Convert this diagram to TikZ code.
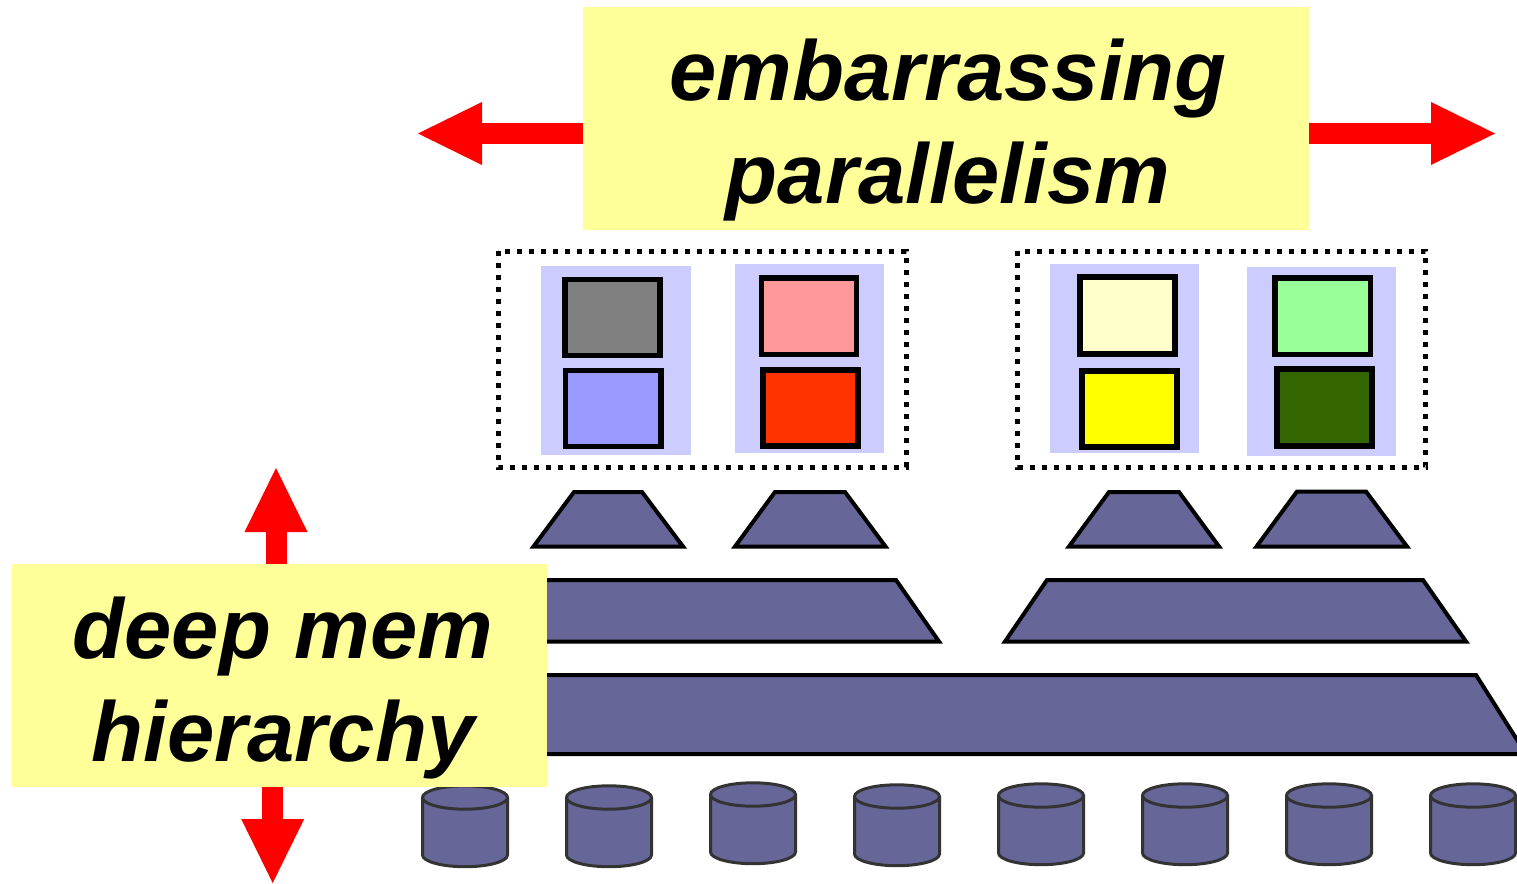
\documentclass[tikz,border=0pt]{standalone}
\usepackage{fontspec}
\setmainfont{Liberation Sans}
\usetikzlibrary{arrows.meta,calc}

\definecolor{labelyellow}{HTML}{FFFF99}
\definecolor{panelblue}{HTML}{CCCCFF}
\definecolor{slate}{HTML}{666699}
\definecolor{rimgray}{HTML}{333333}
\definecolor{cellgray}{HTML}{808080}
\definecolor{cellblue}{HTML}{9999FF}
\definecolor{cellpink}{HTML}{FF9999}
\definecolor{cellred}{HTML}{FF3300}
\definecolor{cellcream}{HTML}{FFFFCC}
\definecolor{cellyellow}{HTML}{FFFF00}
\definecolor{cellmint}{HTML}{99FF99}
\definecolor{cellforest}{HTML}{336600}

\begin{document}
\begin{tikzpicture}[x=1pt,y=-1pt,
  labelbox/.style={rectangle,fill=labelyellow,draw=none,inner sep=0pt},
  labeltext/.style={inner sep=0pt,align=center,
    font=\fontsize{85}{103}\selectfont\bfseries\itshape},
  bigarrow/.style={draw=red,line width=21pt,
    -{Triangle[length=64pt,width=63pt,line width=0pt]}},
  groupbox/.style={draw=black,line width=5pt,dash pattern=on 5pt off 7pt},
  panel/.style={fill=panelblue},
  cell/.style={draw=black,line width=5.5pt},
  level/.style={draw=black,fill=slate,line width=4pt,line join=miter},
  disk/.style={draw=rimgray,fill=slate,line width=3pt}]

\useasboundingbox (0,0) rectangle (1517,883);

% memory levels: per-core caches
\draw[level] (533.5,546.5) -- (574,492) -- (642,492) -- (683,546.5) -- cycle;
\draw[level] (735,546.5) -- (775,492) -- (845,492) -- (885.5,546.5) -- cycle;
\draw[level] (1069,546.5) -- (1109,492) -- (1179,492) -- (1219,546.5) -- cycle;
\draw[level] (1256.5,546.5) -- (1297,491.5) -- (1366,491.5) -- (1407,546.5) -- cycle;
% shared caches
\draw[level] (480,641.5) -- (523,580) -- (896,580) -- (939,641.5) -- cycle;
\draw[level] (1005,641.5) -- (1047,580) -- (1423,580) -- (1466,641.5) -- cycle;
% main memory
\draw[level] (430,754) -- (480,675) -- (1476,675) -- (1526,754) -- cycle;

% disks
\foreach \cx/\cy in {465/797.5,609/797.5,753/794.5,897/796.5,
                     1041/795.5,1185/795.5,1329/795.5,1473/795.5}{
  \filldraw[disk] ({\cx-42.5},\cy) -- ({\cx-42.5},{\cy+57.5})
     arc[start angle=180,end angle=0,x radius=42.5,y radius=11.7]
     -- ({\cx+42.5},\cy)
     arc[start angle=0,end angle=-180,x radius=42.5,y radius=11.7] -- cycle;
  \draw[disk,fill=none] ({\cx-42.5},\cy)
     arc[start angle=180,end angle=0,x radius=42.5,y radius=11.7];
}

% processor groups
\draw[groupbox] (498,251) rectangle (906,467);
\draw[groupbox] (1017.5,251) rectangle (1425.5,467);

\fill[panel] (541,266) rectangle (691,455);
\fill[panel] (735,264) rectangle (884,453);
\fill[panel] (1050,264) rectangle (1199,453);
\fill[panel] (1247,267) rectangle (1396,456);

\draw[cell,fill=cellgray]   (565,279.5) rectangle (660,355.5);
\draw[cell,fill=cellblue]   (565.7,370.5) rectangle (661,446.5);
\draw[cell,fill=cellpink]   (761.5,278) rectangle (856.5,354.5);
\draw[cell,fill=cellred]    (763,370) rectangle (858,446);
\draw[cell,fill=cellcream]  (1079.8,276.8) rectangle (1175,354.2);
\draw[cell,fill=cellyellow] (1081.8,370.8) rectangle (1177.2,447.2);
\draw[cell,fill=cellmint]   (1275,277.8) rectangle (1370.3,354.5);
\draw[cell,fill=cellforest] (1276.8,369) rectangle (1372.2,446);

% labels
\node[labelbox,minimum width=726pt,minimum height=223pt] (ep) at (946,118.5) {};
\node[labeltext] (eptext) at (948,130) {embarrassing\\parallelism};
\node[labelbox,minimum width=535pt,minimum height=223pt] (dm) at (279.5,675.5) {};
\node[labeltext] (dmtext) at (283,688) {deep mem\\hierarchy};

% arrows
\coordinate (lt) at (418,133.5);
\coordinate (rt) at (1495,133.5);
\coordinate (ut) at (276,468);
\coordinate (dt) at (272.7,883);
\draw[bigarrow] (ep.west |- lt) -- (lt);
\draw[bigarrow] (ep.east |- rt) -- (rt);
\draw[bigarrow] (dm.north -| ut) -- (ut);
\draw[bigarrow] (dm.south -| dt) -- (dt);
\end{tikzpicture}
\end{document}
